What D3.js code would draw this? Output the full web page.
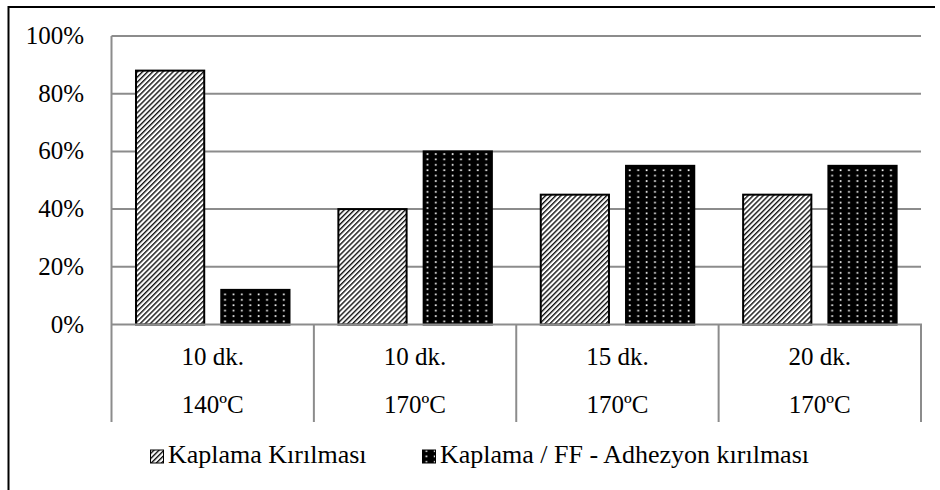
<!DOCTYPE html>
<html>
<head>
<meta charset="utf-8">
<script src="https://cdn.jsdelivr.net/npm/d3@7"></script>
<style>
  html, body { margin: 0; padding: 0; background: #fff; }
  svg { display: block; }
  text { font-family: "Liberation Serif", "DejaVu Serif", serif; fill: #000; }
</style>
</head>
<body>
<svg id="chart" width="940" height="490"></svg>
<script>
// Test conditions (two-line category labels)
const durations = ["10 dk.", "10 dk.", "15 dk.", "20 dk."];
const temperatures = ["140ºC", "170ºC", "170ºC", "170ºC"];
const seriesNames = ["Kaplama Kırılması", "Kaplama / FF - Adhezyon kırılması"];
// Share of each failure mode (fractions)
const coatingFracture = [0.88, 0.40, 0.45, 0.45];
const adhesionFracture = [0.12, 0.60, 0.55, 0.55];
const yTicks = [0, 0.2, 0.4, 0.6, 0.8, 1.0];

const svg = d3.select("#chart");
const W = 940, H = 490;
const plot = { left: 111.5, right: 921, top: 36, bottom: 324.5, axisExt: 422 };
const gridColor = "#8c8c8c";
const fontSize = 25;
const legendFontSize = 26;

// Patterns: fine diagonal hatch and dotted black
const defs = svg.append("defs");
const hatch = defs.append("pattern")
  .attr("id", "hatch").attr("patternUnits", "userSpaceOnUse")
  .attr("width", 3.6).attr("height", 3.6)
  .attr("patternTransform", "rotate(45)");
hatch.append("rect").attr("width", 3.6).attr("height", 3.6).attr("fill", "#fff");
hatch.append("rect").attr("x", 0).attr("y", 0).attr("width", 1.4).attr("height", 3.6).attr("fill", "#111");

const dots = defs.append("pattern")
  .attr("id", "dots").attr("patternUnits", "userSpaceOnUse")
  .attr("width", 8.4).attr("height", 5.4);
dots.append("rect").attr("width", 8.4).attr("height", 5.4).attr("fill", "#000");
dots.append("rect").attr("x", 3.5).attr("y", 2).attr("width", 1.7).attr("height", 1.7).attr("fill", "#fff");

// Outer frame (left and top edges)
svg.append("line").attr("x1", 8.5).attr("x2", 8.5).attr("y1", 6).attr("y2", H).attr("stroke", "#000").attr("stroke-width", 2);
svg.append("line").attr("x1", 8).attr("x2", 935).attr("y1", 7).attr("y2", 7).attr("stroke", "#000").attr("stroke-width", 2);

const x0 = d3.scaleBand().domain(d3.range(durations.length)).range([plot.left, plot.right]).paddingInner(0).paddingOuter(0);
const x1 = d3.scaleBand().domain([0, 1]).range([24.5, 178]).paddingInner(0.2).paddingOuter(0);
const y = d3.scaleLinear().domain([0, 1]).range([plot.bottom, plot.top]);

// Gridlines
svg.append("g").selectAll("line").data(yTicks.filter(d => d > 0)).join("line")
  .attr("x1", plot.left).attr("x2", plot.right)
  .attr("y1", d => y(d)).attr("y2", d => y(d))
  .attr("stroke", gridColor).attr("stroke-width", 2);

// Y tick labels
svg.append("g").selectAll("text").data(yTicks).join("text")
  .attr("x", 84).attr("y", d => y(d) + 8)
  .attr("text-anchor", "end").attr("font-size", fontSize)
  .text(d => d3.format(".0%")(d));

// Bars
const groups = svg.append("g").selectAll("g").data(d3.range(durations.length)).join("g")
  .attr("transform", i => `translate(${x0(i)},0)`);
groups.append("rect")
  .attr("x", x1(0)).attr("width", x1.bandwidth())
  .attr("y", i => y(coatingFracture[i])).attr("height", i => y(0) - y(coatingFracture[i]))
  .attr("fill", "url(#hatch)").attr("stroke", "#000").attr("stroke-width", 2);
groups.append("rect")
  .attr("x", x1(1)).attr("width", x1.bandwidth())
  .attr("y", i => y(adhesionFracture[i])).attr("height", i => y(0) - y(adhesionFracture[i]))
  .attr("fill", "url(#dots)").attr("stroke", "#000").attr("stroke-width", 2);

// Axis frame: left axis, baseline and category separators
svg.append("line").attr("x1", plot.left).attr("x2", plot.left).attr("y1", plot.top).attr("y2", plot.axisExt).attr("stroke", gridColor).attr("stroke-width", 2);
svg.append("line").attr("x1", plot.left).attr("x2", plot.right + 1).attr("y1", plot.bottom).attr("y2", plot.bottom).attr("stroke", gridColor).attr("stroke-width", 2);
const seps = d3.range(1, durations.length + 1).map(i => i < durations.length ? x0(i) : plot.right);
svg.append("g").selectAll("line").data(seps).join("line")
  .attr("x1", d => d).attr("x2", d => d)
  .attr("y1", plot.bottom).attr("y2", plot.axisExt)
  .attr("stroke", gridColor).attr("stroke-width", 2);

// Category labels (two rows)
const cats = svg.append("g").selectAll("g").data(d3.range(durations.length)).join("g")
  .attr("transform", i => `translate(${x0(i) + x0.bandwidth() / 2},0)`);
cats.append("text").attr("y", 365).attr("text-anchor", "middle").attr("font-size", fontSize).text(i => durations[i]);
cats.append("text").attr("y", 413).attr("text-anchor", "middle").attr("font-size", fontSize).text(i => temperatures[i]);

// Legend
const legendItems = [
  { name: seriesNames[0], fill: "url(#hatch)", x: 150 },
  { name: seriesNames[1], fill: "url(#dots)", x: 422 }
];
const lg = svg.append("g").selectAll("g").data(legendItems).join("g")
  .attr("transform", d => `translate(${d.x},0)`);
lg.append("rect").attr("x", 0.5).attr("y", 450).attr("width", 13).attr("height", 13)
  .attr("fill", d => d.fill).attr("stroke", "#000").attr("stroke-width", 1);
lg.append("text").attr("x", 18).attr("y", 463).attr("font-size", legendFontSize).text(d => d.name);
</script>
</body>
</html>
